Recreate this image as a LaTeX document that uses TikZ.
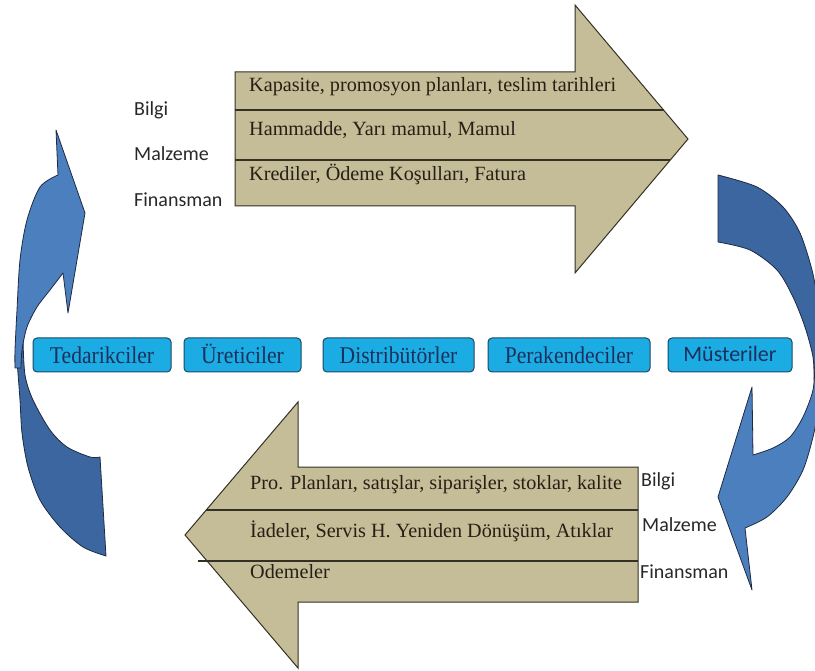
\documentclass[tikz,border=0pt]{standalone}
\usepackage{fontspec}
\setmainfont{Liberation Serif}
\newfontfamily\labelsans{Carlito}

\definecolor{tanfill}{RGB}{196,189,151}
\definecolor{tanline}{RGB}{52,48,36}
\definecolor{tantext}{RGB}{40,30,22}
\definecolor{boxfill}{RGB}{27,172,228}
\definecolor{boxline}{RGB}{30,72,100}
\definecolor{boxtext}{RGB}{28,48,92}
\definecolor{bandlight}{RGB}{76,127,190}
\definecolor{banddark}{RGB}{59,102,160}
\definecolor{bandline}{RGB}{30,42,66}
\definecolor{labeltext}{RGB}{40,40,40}

% narrow serif lettering used inside the party boxes
\newcommand{\narrowtext}[1]{\scalebox{0.9}[1]{#1}}

\tikzset{
  tanarrow/.style={fill=tanfill, draw=tanline, line width=1pt, line join=miter},
  divider/.style={draw=tanline, line width=1.1pt},
  rowtext/.style={anchor=base west, inner sep=0pt, text=tantext,
    font=\fontsize{20.2}{24}\selectfont},
  flowlabel/.style={anchor=base west, inner sep=0pt, text=labeltext,
    font=\labelsans\fontsize{20}{24}\selectfont},
  partybox/.style={rounded corners=4pt, fill=boxfill, draw=boxline, line width=1pt},
  partytext/.style={inner sep=0pt, text=boxtext, anchor=base,
    font=\fontsize{24}{28}\selectfont},
  bandfront/.style={fill=bandlight, draw=bandline, line width=0.8pt, line join=round},
  bandback/.style={fill=banddark, draw=bandline, line width=0.8pt, line join=round}
}

\begin{document}
\begin{tikzpicture}[x=1pt, y=-1pt]
\useasboundingbox (0,0) rectangle (815,671);
\begin{scope}
\clip (0,0) rectangle (815,671);

% ---- upper flow arrow (left to right) ----
\draw[tanarrow] (235,72) -- (575,72) -- (575,5) -- (688,139) -- (575,273)
  -- (575,206) -- (235,206) -- cycle;
\draw[divider] (235,110) -- (663.5,110);
\draw[divider] (235,160) -- (670,160);

\node[rowtext] (t1) at (249,92) {Kapasite, promosyon planları, teslim tarihleri};
\node[rowtext] (t2) at (249,136) {Hammadde, Yarı mamul, Mamul};
\node[rowtext] (t3) at (249,181) {Krediler, Ödeme Koşulları, Fatura};

\node[flowlabel] (lb1) at (134,116) {Bilgi};
\node[flowlabel] (lb2) at (134,161) {Malzeme};
\node[flowlabel] (lb3) at (134,207) {Finansman};

% ---- lower flow arrow (right to left) ----
\draw[tanarrow] (638,467) -- (298,467) -- (298,402) -- (185,535) -- (298,668)
  -- (298,602) -- (638,602) -- cycle;
\draw[divider] (206,510) -- (638,510);
\draw[divider] (198,561) -- (638,561);

\node[rowtext] (b1) at (250,489) {Pro. Planları, satışlar, siparişler, stoklar, kalite};
\node[rowtext] (b2) at (250,537) {İadeler, Servis H. Yeniden Dönüşüm, Atıklar};
\node[rowtext] (b3) at (250,578) {Odemeler};

\node[flowlabel] (rb1) at (641,486) {Bilgi};
\node[flowlabel] (rb2) at (642,531) {Malzeme};
\node[flowlabel] (rb3) at (640,578) {Finansman};

% ---- left curved arrow (pointing up) ----
\draw[bandback] (16,340) -- (23,340)
  -- plot[smooth] coordinates {(23,340) (25,375) (33,400) (50,430) (67,447) (90,457) (100,457)}
  -- (106,556)
  -- plot[smooth] coordinates {(106,556) (83,547) (60,527) (40,500) (28,467) (22,433) (20,400) (17,360) (16,340)}
  -- cycle;
\draw[bandfront] (56,130) -- (85,213) -- (68,313) -- (63,273)
  -- plot[smooth] coordinates {(63,273) (50,290) (37,307) (27,327) (22,350) (21,368)}
  -- (15,368)
  -- plot[smooth] coordinates {(15,368) (15,350) (17,310) (20,260) (27,220) (40,187) (58,175)}
  -- cycle;

% ---- right curved arrow (pointing down) ----
\draw[bandback] (718,175)
  -- plot[smooth] coordinates {(718,175) (757,187) (783,207) (800,233) (812,270) (818,303) (822,340) (824,380)}
  -- (814,380)
  -- plot[smooth] coordinates {(814,380) (813,357) (805,327) (793,297) (777,270) (750,250) (718,242)}
  -- cycle;
\draw[bandfront] (752,387) -- (718,497) -- (752,590) -- (745,528)
  -- plot[smooth] coordinates {(745,528) (767,517) (787,497) (803,470) (813,437) (820,400) (824,362)}
  -- (815,362)
  -- plot[smooth] coordinates {(815,362) (813,390) (803,417) (790,437) (773,448) (753,455)}
  -- cycle;

% ---- supply chain parties ----
\draw[partybox] (33,338) rectangle (171,372);
\draw[partybox] (184,338) rectangle (301,372);
\draw[partybox] (323,338) rectangle (474,372);
\draw[partybox] (488,338) rectangle (650,372);
\draw[partybox] (668,338) rectangle (792,372);

\node[partytext] (ted) at (102,363) {\narrowtext{Tedarikciler}};
\node[partytext] (ure) at (242.5,363) {\narrowtext{Üreticiler}};
\node[partytext] (dis) at (398.5,363) {\narrowtext{Distribütörler}};
\node[partytext] (per) at (569,363) {\narrowtext{Perakendeciler}};
\node[partytext, font=\labelsans\fontsize{22}{26}\selectfont] (mus) at (730,362) {Müsteriler};
\end{scope}
\end{tikzpicture}
\end{document}
